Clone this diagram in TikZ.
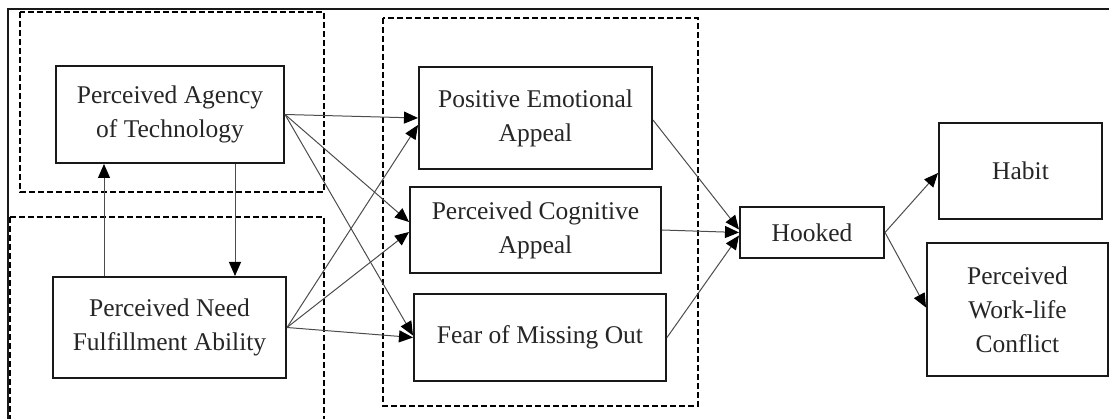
\documentclass[tikz,border=0pt]{standalone}
\usepackage{fontspec}
\setmainfont{Liberation Serif}
\usetikzlibrary{arrows.meta}

\begin{document}
\begin{tikzpicture}[x=1pt,y=-1pt,
  box/.style={draw=black!90, line width=2pt, fill=white, inner sep=0pt,
    align=center, text=black!85,
    font=\fontsize{25.5}{34}\selectfont},
  group/.style={draw=black, line width=1.8pt, dash pattern=on 6pt off 3pt},
  link/.style={draw=black!70, line width=1pt,
    -{Triangle[length=14pt,width=12pt,black]}},
]
\useasboundingbox (0,0) rectangle (1109,419);

% outer frame (top and left edges)
\draw[line width=2.2pt, black!90] (8,440) -- (8,9) -- (1130,9);

% grouping frames
\draw[group] (20,12) rectangle (324,192);
\draw[group] (10,217) -- (324,217) -- (324,440);
\draw[group] (10,217) -- (10,440);
\draw[group] (383,18) rectangle (698,406);

% constructs
\node[box, minimum width=228pt, minimum height=97pt]  (agency) at (170,114.5) {Perceived Agency\\of Technology};
\node[box, minimum width=233pt, minimum height=101pt] (need)   at (169.5,327.5) {Perceived Need\\Fulfillment Ability};
\node[box, minimum width=233pt, minimum height=102pt] (pea)    at (535.5,118) {Positive Emotional\\Appeal};
\node[box, minimum width=251pt, minimum height=86pt]  (pca)    at (535.5,230) {Perceived Cognitive\\Appeal};
\node[box, minimum width=252pt, minimum height=87pt]  (fomo)   at (540,337.5) {Fear of Missing Out};
\node[box, minimum width=144pt, minimum height=51pt]  (hooked) at (812,232.5) {Hooked};
\node[box, minimum width=163pt, minimum height=96pt]  (habit)  at (1020.5,171) {Habit};
\node[box, minimum width=181pt, minimum height=133pt] (wlc)    at (1017.5,309.5) {Perceived\\Work-life\\Conflict};

% vertical links between the two antecedents
\coordinate (upx) at (104,0);
\coordinate (dnx) at (235,0);
\draw[link] (need.north -| upx) -- (agency.south -| upx);
\draw[link] (agency.south -| dnx) -- (need.north -| dnx);

% antecedents to appeals
\draw[link] (agency.east) -- (pea.west);
\draw[link] (agency.east) -- ([yshift=8pt]pca.west);
\draw[link] (agency.east) -- ([yshift=2pt]fomo.west);
\draw[link] (need.east) -- ([yshift=-7pt]pea.west);
\draw[link] (need.east) -- ([yshift=-2pt]pca.west);
\draw[link] (need.east) -- (fomo.west);

% appeals to hooked
\draw[link] ([yshift=-2pt]pea.east) -- ([yshift=3pt]hooked.west);
\draw[link] (pca.east) -- (hooked.west);
\draw[link] (fomo.east) -- ([yshift=-3pt]hooked.west);

% outcomes
\draw[link] (hooked.east) -- ([yshift=-2pt]habit.west);
\draw[link] (hooked.east) -- ([yshift=2pt]wlc.west);
\end{tikzpicture}
\end{document}
